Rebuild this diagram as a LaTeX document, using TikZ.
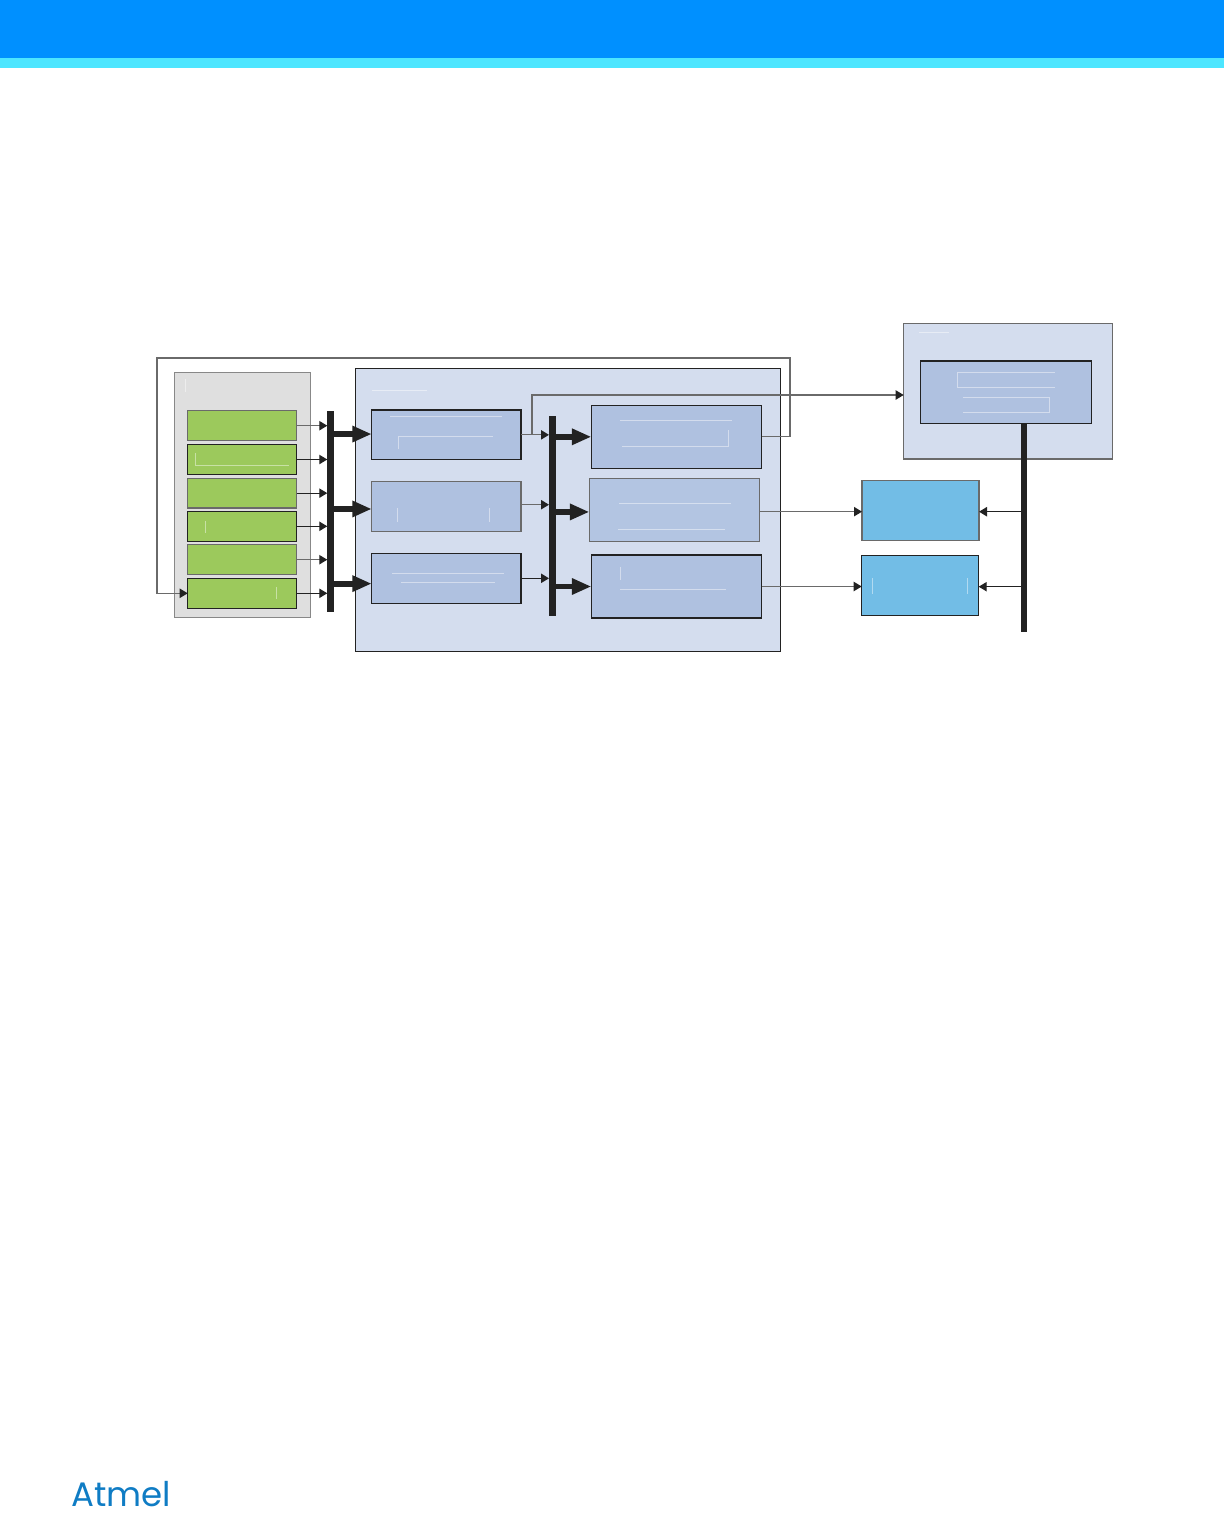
\documentclass[tikz,border=0pt]{standalone}
\usepackage{fontspec}
\setmainfont{Poppins}
\usetikzlibrary{arrows.meta}
\definecolor{hdr}{HTML}{0090FF}
\definecolor{strip}{HTML}{4DE6FF}
\definecolor{greyfill}{HTML}{DFDFDF}
\definecolor{greenfill}{HTML}{9CC95C}
\definecolor{paleblue}{HTML}{D4DDEE}
\definecolor{midblue}{HTML}{AFC1E0}
\definecolor{midblueb}{HTML}{B3C5E2}
\definecolor{cyanfill}{HTML}{72BDE6}
\definecolor{ink}{HTML}{222222}
\definecolor{edge}{HTML}{6A6A6A}
\definecolor{logoblue}{HTML}{0F7CC4}
\newcommand{\blk}[6]{%
  \node[#2,inner sep=0pt,outer sep=0pt,
        minimum width={(#5-#3)*0.75pt},minimum height={(#6-#4)*0.75pt}]
       (#1) at ({(#3+#5)/2},{(#4+#6)/2}) {};}
\tikzset{
  blockd/.style={draw=ink,line width=0.95pt},
  blockg/.style={draw=edge,line width=1.05pt},
  greyarea/.style={blockg,draw=edge!80,fill=greyfill},
  greenbox/.style={fill=greenfill},
  outerbox/.style={fill=paleblue},
  innerbox/.style={fill=midblue},
  cyanbox/.style={fill=cyanfill},
  busbar/.style={fill=ink,draw=none},
  thinarrow/.style={line width=0.9pt,-{Triangle[length=6pt,width=7pt,color=ink]}},
  fatarrow/.style={draw=ink,line width=4.4pt,-{Triangle[length=14.5pt,width=11.5pt,color=ink]}},
  ghost/.style={draw=white,draw opacity=0.45,line width=0.6pt},
}
\begin{document}
\begin{tikzpicture}[x=0.75pt,y=-0.75pt]
\useasboundingbox (0,0) rectangle (1224,1513);
\fill[hdr] (0,0) rectangle (1224,58);
\fill[strip] (0,58) rectangle (1224,68);
% containers
\blk{grp}{greyarea}{174.7}{372.3}{310.3}{617.3}
\blk{dma}{outerbox,blockd}{355.3}{368.7}{780.3}{651.3}
\blk{cpu}{outerbox,blockg}{903.7}{323.7}{1112.7}{459}
% green column
\blk{ga}{greenbox,blockg}{187.7}{410.7}{296.7}{440.7}
\blk{gb}{greenbox,blockd}{187.7}{444.3}{296.7}{474.7}
\blk{gc}{greenbox,blockg}{187.7}{478.3}{296.7}{508}
\blk{gd}{greenbox,blockd}{187.7}{511.3}{296.7}{541.3}
\blk{ge}{greenbox,blockg}{187.7}{544.7}{296.7}{574.7}
\blk{gf}{greenbox,blockd}{187.7}{578.3}{296.7}{608.3}
% buses
\blk{busa}{busbar}{327.3}{411.3}{334}{612}
\blk{busb}{busbar}{549}{415.7}{555.7}{616}
% middle blocks
\blk{la}{innerbox,blockd}{371.7}{410}{521}{459.7}
\blk{lb}{innerbox,blockg}{371.7}{481.7}{521}{531.7}
\blk{lc}{innerbox,blockd}{371.7}{553.3}{521}{603.3}
\blk{ra}{innerbox,blockd}{591.3}{405.3}{761.7}{468.3}
\blk{rb}{fill=midblueb,blockg}{589.3}{478.3}{759.7}{541.3}
\blk{rc}{innerbox,blockd}{591.3}{555}{761.7}{618}
% right side
\blk{mem}{innerbox,blockd}{920.7}{361}{1091.3}{423.7}
\blk{ca}{cyanbox,blockg}{862}{480.7}{979}{540.3}
\blk{cb}{cyanbox,blockd}{861.7}{555.7}{978.7}{615.3}
\blk{busc}{busbar}{1021.3}{423.7}{1026.7}{632}
% green to bus
\draw[thinarrow,draw=edge] (ga.east) -- (ga.east -| busa.west);
\foreach \g in {gb,gc,gd,gf} \draw[thinarrow,draw=ink] (\g.east) -- (\g.east -| busa.west);
\draw[thinarrow,draw=edge] (ge.east) -- (ge.east -| busa.west);
% bus A to left blocks
\draw[fatarrow] ([yshift=0.6pt]la.west -| busa.east) -- ([yshift=0.6pt]la.west);
\draw[fatarrow] ([yshift=-1.7pt]lb.west -| busa.east) -- ([yshift=-1.7pt]lb.west);
\draw[fatarrow] ([yshift=-4pt]lc.west -| busa.east) -- ([yshift=-4pt]lc.west);
% left blocks to bus B
\draw[thinarrow,draw=edge] (la.east) -- (la.east -| busb.west);
\draw[thinarrow,draw=edge] ([yshift=1.5pt]lb.east) -- ([yshift=1.5pt]lb.east -| busb.west);
\draw[thinarrow,draw=ink] (lc.east) -- (lc.east -| busb.west);
% bus B to right blocks
\draw[fatarrow] (ra.west -| busb.east) -- (ra.west);
\draw[fatarrow] ([yshift=-1.6pt]rb.west -| busb.east) -- ([yshift=-1.6pt]rb.west);
\draw[fatarrow] (rc.west -| busb.east) -- (rc.west);
% feedback
\coordinate (fbtr) at (790,358);
\coordinate (fbtl) at (157,358);
\draw[thinarrow,draw=edge] (ra.east) -- (ra.east -| fbtr) -- (fbtr) -- (fbtl) -- (fbtl |- gf.west) -- (gf.west);
% branch to cpu
\coordinate (brk) at (532,434.9);
\coordinate (brt) at (532,395);
\draw[thinarrow,draw=edge] (brk) -- (brt) -- (brt -| cpu.west);
% right blocks to cyan
\draw[thinarrow,draw=edge] ([yshift=-1.4pt]rb.east) -- ([yshift=-1.4pt]rb.east -| ca.west);
\draw[thinarrow,draw=edge] (rc.east) -- (rc.east -| cb.west);
% bus C to cyan
\draw[thinarrow,draw=ink] ([yshift=-0.9pt]ca.east -| busc.west) -- ([yshift=-0.9pt]ca.east);
\draw[thinarrow,draw=ink] ([yshift=-0.9pt]cb.east -| busc.west) -- ([yshift=-0.9pt]cb.east);
% pale traces
\draw[ghost] (185.3,378.7) -- (185.3,392);
\draw[ghost] (372,390.3) -- (426.7,390.3);
\draw[ghost] (390,416.3) -- (501.7,416.3);
\draw[ghost] (398.3,449.3) -- (398.3,436.7) -- (492.7,436.7);
\draw[ghost] (397.3,508.3) -- (397.3,521.7);
\draw[ghost] (489.3,508.3) -- (489.3,521.7);
\draw[ghost] (392.3,573.3) -- (504,573.3);
\draw[ghost] (401.3,582.3) -- (495,582.3);
\draw[ghost] (195.3,453.3) -- (195.3,465.3) -- (289,465.3);
\draw[ghost] (205.3,521) -- (205.3,532.7);
\draw[ghost] (276.3,587.3) -- (276.3,598.7);
\draw[ghost] (620,420.3) -- (732,420.3);
\draw[ghost] (622,446.3) -- (728.3,446.3) -- (728.3,430);
\draw[ghost] (619,503.3) -- (731,503.3);
\draw[ghost] (618,529.3) -- (725,529.3);
\draw[ghost] (620.3,566.7) -- (620.3,580);
\draw[ghost] (620,589) -- (725.7,589);
\draw[ghost] (918.7,332.3) -- (948.7,332.3);
\draw[ghost] (1055,372.3) -- (957.7,372.3) -- (957.7,387.3) -- (1055,387.3);
\draw[ghost] (963.3,397.3) -- (1049.3,397.3) -- (1049.3,412.3) -- (963.3,412.3);
\draw[ghost] (872.3,578.3) -- (872.3,594.3);
\draw[ghost] (967.3,578.3) -- (967.3,594.3);
% logo
\node[anchor=base west,inner sep=0pt,text=logoblue,font=\fontsize{25.5}{25.5}\selectfont] (logo) at (71,1506.5) {Atmel};
\end{tikzpicture}
\end{document}
